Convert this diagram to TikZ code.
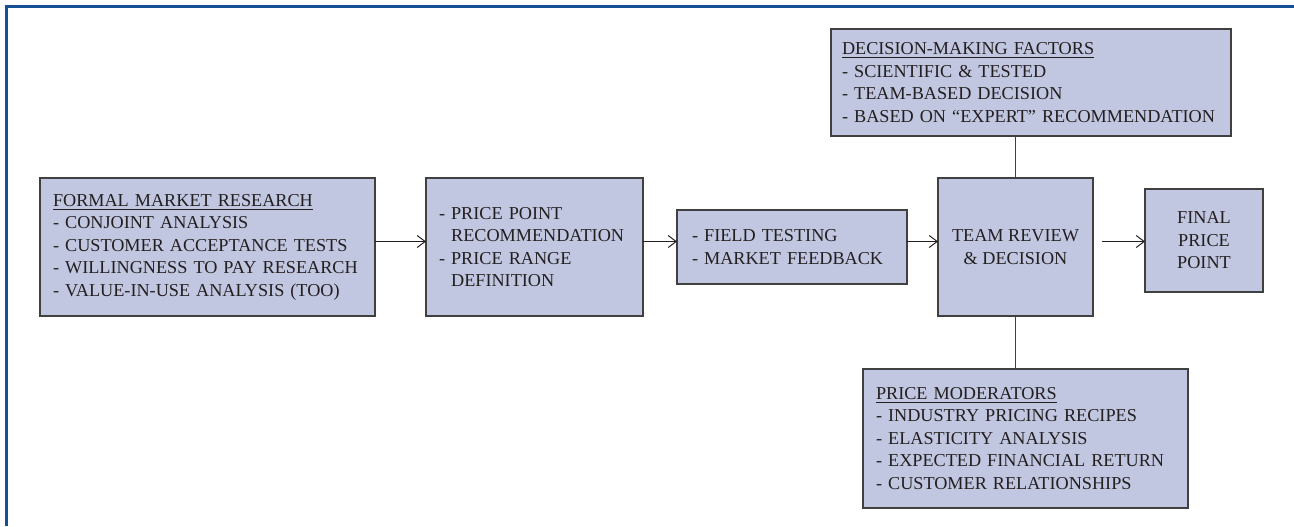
\documentclass[tikz,border=0pt]{standalone}
\usepackage{fontspec}
\setmainfont{Liberation Serif}
\usetikzlibrary{positioning,arrows.meta,calc}
\definecolor{framebl}{RGB}{20,80,148}
\definecolor{boxfill}{RGB}{194,199,225}
\definecolor{boxline}{RGB}{64,64,64}
\definecolor{txt}{RGB}{35,31,32}

\begin{document}
\begin{tikzpicture}[
  x=0.5pt, y=-0.5pt,
  font=\fontsize{9.1}{11.25}\selectfont,
  box/.style  = {draw=boxline, fill=boxfill, line width=0.75pt, text=txt,
                 inner sep=0pt, outer sep=0pt},
  lbox/.style = {box, align=left, inner xsep=6.5pt},
  cbox/.style = {box, align=center},
  arr/.style  = {-{Straight Barb[length=4pt,width=6pt]}, line width=0.5pt, draw=txt},
  lnk/.style  = {line width=0.6pt, draw=boxline},
  frm/.style  = {draw=framebl, line width=1.5pt},
]
\useasboundingbox (0,0) rectangle (1294,526);

% ======================= frame =========================================
\draw[frm] (1294,6.5) -- (6.5,6.5) -- (6.5,526);

% ======================= main flow =====================================
\node[lbox, text width=154.5pt, minimum height=69pt] (fmr) at (207.5,247)
  {\underline{FORMAL MARKET RESEARCH}\\- CONJOINT ANALYSIS\\
   - CUSTOMER ACCEPTANCE TESTS\\- WILLINGNESS TO PAY RESEARCH\\
   - VALUE-IN-USE ANALYSIS (TOO)};
\node[lbox, text width=95.5pt, minimum height=69pt] (ppr) at (534.5,247)
  {- PRICE POINT\\\hphantom{- }RECOMMENDATION\\- PRICE RANGE\\\hphantom{- }DEFINITION};
\node[lbox, inner xsep=7.5pt, text width=100pt, minimum height=37pt] (ft) at (792,247)
  {- FIELD TESTING\\- MARKET FEEDBACK};
\node[cbox, minimum width=77.5pt, minimum height=69pt] (trd) at (1015.5,247)
  {TEAM REVIEW\\\& DECISION};
\node[cbox, minimum width=59pt, minimum height=51.5pt] (fpp) at (1204,240.5)
  {FINAL\\PRICE\\POINT};

% ======================= side boxes ====================================
\node[lbox, inner xsep=5.5pt, text width=189pt, minimum height=53.5pt] (dmf) at (1031,82.5)
  {\underline{DECISION-MAKING FACTORS}\\- SCIENTIFIC \& TESTED\\
   - TEAM-BASED DECISION\\- BASED ON ``EXPERT'' RECOMMENDATION};
\node[lbox, text width=149.5pt, minimum height=69.5pt] (pm) at (1025.5,438.5)
  {\underline{PRICE MODERATORS}\\- INDUSTRY PRICING RECIPES\\
   - ELASTICITY ANALYSIS\\- EXPECTED FINANCIAL RETURN\\
   - CUSTOMER RELATIONSHIPS};

% ======================= connectors ====================================
\coordinate (flow) at (0,241.5);
\draw[arr] (fmr.east |- flow) -- (ppr.west |- flow);
\draw[arr] (ppr.east |- flow) -- (ft.west |- flow);
\draw[arr] (ft.east |- flow) -- (trd.west |- flow);
\draw[arr, shorten <=4.5pt] (trd.east |- flow) -- (fpp.west |- flow);
\draw[lnk] (trd.north) -- (trd.north |- dmf.south);
\draw[lnk] (trd.south) -- (trd.south |- pm.north);

\end{tikzpicture}
\end{document}
